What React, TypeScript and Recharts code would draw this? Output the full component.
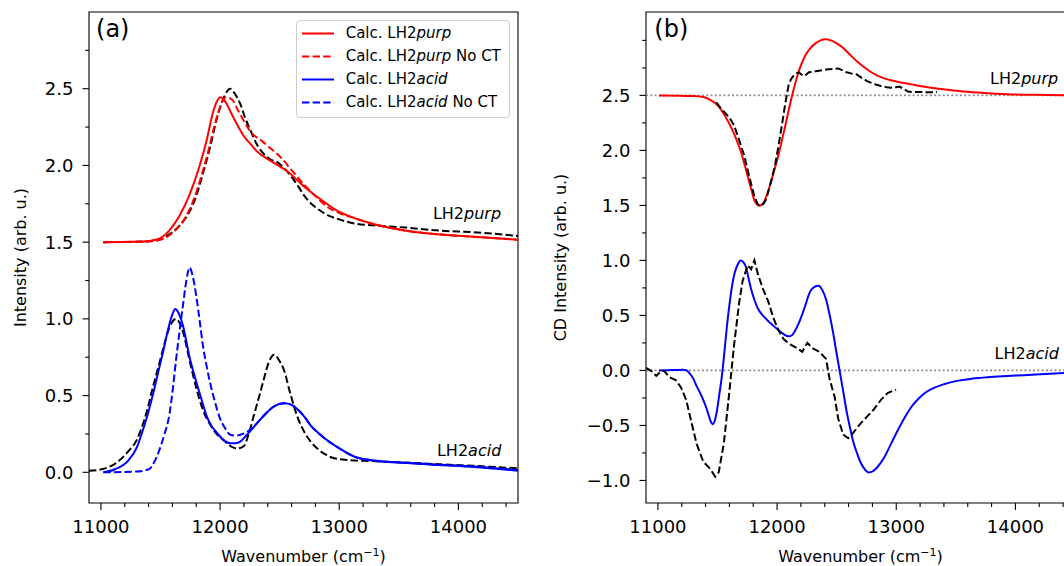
import React from 'react';
import { LineChart, Line, XAxis, YAxis, ReferenceLine, ReferenceArea, ReferenceDot, Legend, Label } from 'recharts';

const FONT = '"DejaVu Sans", sans-serif';

// ---- panel (a): absorption, [wavenumber, intensity] ----
const absPurpCalc = [
  [11020, 1.5], [11300, 1.502], [11400, 1.508], [11490, 1.523], [11573, 1.575], [11658, 1.67],
  [11744, 1.81], [11829, 2.0], [11886, 2.16], [11942, 2.35], [11975, 2.42], [12000, 2.445],
  [12030, 2.43], [12056, 2.4], [12100, 2.33], [12141, 2.27], [12200, 2.19], [12255, 2.14],
  [12311, 2.09], [12425, 2.03], [12567, 1.96], [12709, 1.86], [12851, 1.775], [12993, 1.7],
  [13135, 1.655], [13277, 1.62], [13560, 1.575], [13844, 1.55], [14128, 1.535], [14500, 1.516],
];
const absPurpNoCT = [
  [11020, 1.5], [11400, 1.505], [11500, 1.515], [11600, 1.56], [11700, 1.65], [11780, 1.78],
  [11850, 1.95], [11900, 2.09], [11950, 2.25], [12000, 2.38], [12050, 2.445], [12100, 2.43],
  [12150, 2.36], [12200, 2.29], [12255, 2.22], [12350, 2.16], [12425, 2.11], [12500, 2.06],
  [12600, 1.97], [12700, 1.88], [12800, 1.8], [12900, 1.73], [13000, 1.69], [13135, 1.655],
  [13277, 1.62], [13560, 1.575], [13844, 1.55], [14128, 1.535], [14500, 1.516],
];
const absPurpExp = [
  [11020, 1.5], [11300, 1.502], [11450, 1.51], [11550, 1.54], [11650, 1.6], [11744, 1.7],
  [11800, 1.8], [11857, 1.95], [11920, 2.13], [11971, 2.3], [12030, 2.44], [12084, 2.5],
  [12130, 2.46], [12170, 2.4], [12210, 2.31], [12255, 2.23], [12300, 2.15], [12340, 2.1],
  [12420, 2.04], [12482, 2.02], [12540, 1.98], [12595, 1.93], [12650, 1.87], [12709, 1.8],
  [12780, 1.74], [12851, 1.7], [12920, 1.67], [12993, 1.65], [13135, 1.62], [13277, 1.61],
  [13560, 1.595], [13844, 1.575], [14128, 1.565], [14500, 1.54],
];
const absAcidCalc = [
  [11020, 0.0], [11119, 0.02], [11233, 0.08], [11300, 0.16], [11346, 0.26], [11390, 0.37],
  [11431, 0.49], [11480, 0.65], [11517, 0.77], [11573, 0.96], [11600, 1.03], [11624, 1.064],
  [11650, 1.04], [11687, 0.96], [11744, 0.75], [11800, 0.59], [11850, 0.46], [11886, 0.37],
  [11930, 0.3], [11971, 0.26], [12030, 0.21], [12084, 0.19], [12130, 0.19], [12170, 0.2],
  [12220, 0.24], [12255, 0.27], [12310, 0.32], [12368, 0.37], [12453, 0.43], [12539, 0.45],
  [12600, 0.44], [12652, 0.41], [12710, 0.36], [12766, 0.3], [12820, 0.26], [12879, 0.22],
  [12993, 0.16], [13135, 0.1], [13277, 0.078], [13560, 0.06], [13844, 0.047], [14128, 0.035],
  [14500, 0.01],
];
const absAcidNoCT = [
  [11020, 0.0], [11300, 0.005], [11403, 0.02], [11450, 0.07], [11488, 0.14], [11530, 0.24],
  [11573, 0.37], [11600, 0.52], [11630, 0.73], [11660, 0.92], [11687, 1.08], [11715, 1.24],
  [11744, 1.335], [11770, 1.28], [11800, 1.15], [11830, 0.98], [11857, 0.82], [11885, 0.7],
  [11914, 0.59], [11960, 0.45], [12000, 0.35], [12040, 0.29], [12084, 0.245], [12130, 0.24],
  [12170, 0.245], [12220, 0.26], [12255, 0.28], [12310, 0.32], [12368, 0.37], [12453, 0.43],
  [12539, 0.45], [12600, 0.44], [12652, 0.41], [12710, 0.36], [12766, 0.3], [12820, 0.26],
  [12879, 0.22], [12993, 0.16], [13135, 0.1], [13277, 0.078], [13560, 0.062], [13844, 0.05],
  [14128, 0.038], [14500, 0.015],
];
const absAcidExp = [
  [10900, 0.01], [11006, 0.02], [11119, 0.056], [11233, 0.14], [11300, 0.21], [11346, 0.3],
  [11390, 0.41], [11431, 0.54], [11480, 0.68], [11517, 0.79], [11573, 0.94], [11630, 1.0],
  [11687, 0.92], [11744, 0.73], [11790, 0.58], [11829, 0.47], [11870, 0.38], [11914, 0.315],
  [11970, 0.25], [12028, 0.21], [12080, 0.175], [12141, 0.155], [12198, 0.17], [12240, 0.25],
  [12283, 0.37], [12330, 0.5], [12368, 0.61], [12410, 0.72], [12453, 0.767], [12495, 0.73],
  [12539, 0.66], [12580, 0.54], [12624, 0.42], [12665, 0.33], [12709, 0.26], [12760, 0.2],
  [12823, 0.15], [12880, 0.118], [12936, 0.097], [13078, 0.08], [13277, 0.073], [13560, 0.064],
  [13844, 0.052], [14128, 0.042], [14500, 0.026],
];

// ---- panel (b): CD, [wavenumber, CD intensity] ----
const cdPurpCalc = [
  [11009, 2.5], [11295, 2.495], [11380, 2.485], [11438, 2.46], [11480, 2.43], [11524, 2.38],
  [11570, 2.3], [11610, 2.22], [11655, 2.11], [11696, 1.99], [11730, 1.86], [11767, 1.71],
  [11790, 1.62], [11810, 1.545], [11830, 1.51], [11853, 1.497], [11875, 1.51], [11896, 1.545],
  [11925, 1.63], [11953, 1.73], [11982, 1.84], [12011, 1.955], [12040, 2.09], [12068, 2.22],
  [12096, 2.36], [12125, 2.495], [12155, 2.62], [12182, 2.72], [12210, 2.8], [12240, 2.87],
  [12280, 2.93], [12325, 2.975], [12365, 3.0], [12406, 3.01], [12450, 3.0], [12497, 2.975],
  [12555, 2.93], [12612, 2.87], [12670, 2.81], [12726, 2.76], [12784, 2.715], [12841, 2.68],
  [12900, 2.655], [12955, 2.637], [13040, 2.617], [13127, 2.6], [13240, 2.578], [13356, 2.56],
  [13500, 2.542], [13642, 2.529], [13800, 2.518], [13929, 2.511], [14150, 2.505], [14500, 2.5],
];
const cdPurpExp = [
  [11490, 2.436], [11530, 2.38], [11581, 2.32], [11610, 2.28], [11638, 2.23], [11680, 2.1],
  [11724, 1.955], [11767, 1.76], [11810, 1.58], [11838, 1.51], [11867, 1.497], [11890, 1.52],
  [11910, 1.56], [11945, 1.7], [11982, 1.86], [12010, 2.03], [12039, 2.22], [12068, 2.42],
  [12096, 2.59], [12118, 2.65], [12139, 2.68], [12160, 2.7], [12182, 2.71], [12205, 2.69],
  [12225, 2.675], [12245, 2.69], [12268, 2.71], [12325, 2.72], [12411, 2.735], [12470, 2.74],
  [12512, 2.745], [12545, 2.73], [12583, 2.71], [12620, 2.7], [12669, 2.69], [12710, 2.66],
  [12755, 2.63], [12810, 2.605], [12870, 2.585], [12920, 2.575], [12955, 2.57], [13000, 2.575],
  [13027, 2.58], [13060, 2.56], [13098, 2.535], [13150, 2.53], [13213, 2.53], [13280, 2.528],
  [13342, 2.53],
];
const cdAcidCalc = [
  [11009, 0.0], [11123, 0.003], [11209, 0.007], [11240, 0.0], [11266, -0.026], [11295, -0.07],
  [11324, -0.14], [11352, -0.2], [11381, -0.27], [11403, -0.33], [11424, -0.4], [11442, -0.46],
  [11458, -0.49], [11476, -0.46], [11495, -0.37], [11515, -0.22], [11538, -0.04], [11560, 0.19],
  [11581, 0.42], [11603, 0.62], [11624, 0.78], [11645, 0.89], [11667, 0.956], [11696, 1.0],
  [11720, 0.98], [11739, 0.94], [11760, 0.84], [11782, 0.74], [11810, 0.64], [11839, 0.563],
  [11880, 0.5], [11925, 0.45], [11970, 0.405], [12011, 0.367], [12055, 0.33], [12096, 0.31],
  [12125, 0.32], [12154, 0.367], [12182, 0.43], [12211, 0.51], [12240, 0.6], [12268, 0.694],
  [12300, 0.75], [12348, 0.77], [12380, 0.73], [12411, 0.645], [12440, 0.51], [12469, 0.35],
  [12497, 0.17], [12526, -0.01], [12555, -0.19], [12583, -0.37], [12612, -0.52], [12640, -0.65],
  [12670, -0.75], [12698, -0.83], [12730, -0.89], [12769, -0.927], [12805, -0.915], [12841, -0.88],
  [12900, -0.79], [12955, -0.67], [13010, -0.55], [13070, -0.43], [13125, -0.335], [13184, -0.26],
  [13240, -0.205], [13299, -0.167], [13400, -0.125], [13499, -0.097], [13640, -0.074], [13786, -0.06],
  [13930, -0.05], [14072, -0.043], [14250, -0.032], [14500, -0.018],
];
const cdAcidExp = [
  [10900, 0.023], [10951, -0.01], [10986, -0.05], [11023, -0.01], [11052, -0.003], [11094, -0.06],
  [11152, -0.09], [11195, -0.157], [11238, -0.27], [11281, -0.47], [11324, -0.665], [11381, -0.83],
  [11438, -0.894], [11481, -0.966], [11510, -0.927], [11553, -0.665], [11595, -0.24], [11638, 0.22],
  [11681, 0.61], [11710, 0.81], [11753, 0.956], [11782, 0.92], [11810, 1.0], [11839, 0.875],
  [11882, 0.74], [11925, 0.63], [11968, 0.48], [12011, 0.367], [12054, 0.285], [12111, 0.236],
  [12168, 0.203], [12211, 0.17], [12254, 0.25], [12297, 0.203], [12354, 0.17], [12411, 0.105],
  [12440, -0.075], [12483, -0.24], [12512, -0.435], [12555, -0.583], [12597, -0.616], [12640, -0.566],
  [12698, -0.485], [12755, -0.42], [12812, -0.354], [12870, -0.27], [12927, -0.206], [12998, -0.174],
];

// ---- axes ----
const xTicks = [11000, 11200, 11400, 11600, 11800, 12000, 12200, 12400, 12600, 12800, 13000, 13200, 13400, 13600, 13800, 14000, 14200, 14400];
const xLabels = [11000, 12000, 13000, 14000];
const absYTicks = [0, 0.25, 0.5, 0.75, 1, 1.25, 1.5, 1.75, 2, 2.25, 2.5, 2.75];
const absYLabels = [0, 0.5, 1, 1.5, 2, 2.5];
const cdYTicks = [-1, -0.75, -0.5, -0.25, 0, 0.25, 0.5, 0.75, 1, 1.25, 1.5, 1.75, 2, 2.25, 2.5, 2.75, 3];
const cdYLabels = [-1, -0.5, 0, 0.5, 1, 1.5, 2, 2.5];

const X_DOMAIN: [number, number] = [10900, 14500];
const ABS_Y_DOMAIN: [number, number] = [-0.2, 3.0];
const CD_Y_DOMAIN: [number, number] = [-1.205, 3.258];

const toXY = (pts: number[][]) => pts.map(([x, y]) => ({ x, y }));
const fmt = (v: number) => (v < 0 ? '\u2212' : '') + Math.abs(v).toFixed(1);

const DASH = '7.4 3.2';
const calcSeries = (purp: number[][], purpNo: number[][], acid: number[][], acidNo: number[][]) => [
  { name: 'Calc. LH2purp', data: toXY(purp), color: '#ff0000', dash: undefined },
  { name: 'Calc. LH2purp No CT', data: toXY(purpNo), color: '#ff0000', dash: DASH },
  { name: 'Calc. LH2acid', data: toXY(acid), color: '#0000ff', dash: undefined },
  { name: 'Calc. LH2acid No CT', data: toXY(acidNo), color: '#0000ff', dash: DASH },
];

const italicize = (s: string) =>
  s.split(/(purp|acid)/).map((part, i) =>
    part === 'purp' || part === 'acid'
      ? <tspan key={i} fontStyle="italic">{part}</tspan>
      : <tspan key={i}>{part}</tspan>
  );

const XTick = (props: any) => {
  const { x, y, payload } = props;
  const major = xLabels.includes(payload.value);
  return (
    <g>
      <line x1={x} x2={x} y1={y} y2={y + (major ? 7 : 4)} stroke="#000" strokeWidth={1.1} />
      {major && (
        <text x={x} y={y + 29.7} textAnchor="middle" fontSize={18} fontFamily={FONT} fill="#000">
          {payload.value}
        </text>
      )}
    </g>
  );
};

const makeYTick = (labels: number[]) => (props: any) => {
  const { x, y, payload } = props;
  const major = labels.some((l) => Math.abs(l - payload.value) < 1e-9);
  return (
    <g>
      <line x1={x - (major ? 6.5 : 3.8)} x2={x} y1={y} y2={y} stroke="#000" strokeWidth={1.1} />
      {major && (
        <text x={x - 15.5} y={y + 6.5} textAnchor="end" fontSize={18} fontFamily={FONT} fill="#000">
          {fmt(payload.value)}
        </text>
      )}
    </g>
  );
};

const annot = (text: string, size: number) => (p: any) => {
  const vb = p.viewBox || {};
  const x = (vb.x ?? 0) + (vb.width ?? 0) / 2;
  const y = (vb.y ?? 0) + (vb.height ?? 0) / 2;
  return (
    <text x={x} y={y} fontSize={size} fontFamily={FONT} fill="#000">
      {italicize(text)}
    </text>
  );
};

const PLOT_W = 429;
const CHART_H = 566;
const MARGIN = { top: 12, right: 12, bottom: 0, left: 0 };

const xAxisLabel = (axisW: number) => () => (
  <text x={axisW + PLOT_W / 2} y={562} textAnchor="middle" fontSize={16} fontFamily={FONT} fill="#000">
    Wavenumber (cm<tspan dy={-6} fontSize={11}>{'\u22121'}</tspan><tspan dy={6}>)</tspan>
  </text>
);

const yAxisLabel = (text: string, bx: number) => () => (
  <text x={bx} y={257.5} transform={`rotate(-90, ${bx}, 257.5)`} textAnchor="middle" fontSize={16} fontFamily={FONT} fill="#000">
    {text}
  </text>
);

const absCalc = calcSeries(absPurpCalc, absPurpNoCT, absAcidCalc, absAcidNoCT);

const renderLegend = () => (
  <div
    style={{
      position: 'relative', boxSizing: 'border-box', width: 214, height: 98,
      border: '1px solid #cccccc', borderRadius: 4, background: 'rgba(255,255,255,0.8)',
      fontFamily: FONT, fontSize: 15, color: '#000',
    }}
  >
    {absCalc.map((s, i) => (
      <div key={s.name} style={{ position: 'absolute', left: 0, top: 0.75 + i * 23.1, width: '100%', height: 23.1, lineHeight: '23.1px', whiteSpace: 'nowrap' }}>
        <svg width={32} height={23} style={{ position: 'absolute', left: 4.7, top: 0 }}>
          <line x1={0} x2={32} y1={11.5} y2={11.5} stroke={s.color} strokeWidth={2} strokeDasharray={s.dash} />
        </svg>
        <span style={{ position: 'absolute', left: 48.7, top: 0 }}>
          {s.name.split(/(purp|acid)/).map((part, j) =>
            part === 'purp' || part === 'acid' ? <i key={j}>{part}</i> : <span key={j}>{part}</span>
          )}
        </span>
      </div>
    ))}
  </div>
);

// panel (a): y-axis area 89 px wide, chart at page x 0
const A_AXIS_W = 89;
// panel (b): y-axis area 106 px wide, chart at page x 540
const B_AXIS_W = 106;

const PanelA = () => (
  <LineChart width={A_AXIS_W + PLOT_W + MARGIN.right} height={CHART_H} margin={MARGIN} style={{ fontFamily: FONT }}>
    <XAxis dataKey="x" type="number" domain={X_DOMAIN} ticks={xTicks} interval={0} allowDataOverflow
      height={63} axisLine={false} tickLine={false} tickSize={0} tickMargin={0} tick={(p: any) => <XTick {...p} />}>
      <Label content={xAxisLabel(A_AXIS_W)} />
    </XAxis>
    <YAxis type="number" domain={ABS_Y_DOMAIN} ticks={absYTicks} interval={0} allowDataOverflow
      width={A_AXIS_W} axisLine={false} tickLine={false} tickSize={0} tickMargin={0} tick={makeYTick(absYLabels)}>
      <Label content={yAxisLabel('Intensity (arb. u.)', 26)} />
    </YAxis>
    <ReferenceArea x1={X_DOMAIN[0]} x2={X_DOMAIN[1]} y1={ABS_Y_DOMAIN[0]} y2={ABS_Y_DOMAIN[1]} fill="none" stroke="#000" strokeWidth={1.1} />
    <Line data={toXY(absPurpExp)} dataKey="y" type="monotone" stroke="#000" strokeWidth={2} strokeDasharray={DASH} dot={false} activeDot={false} legendType="none" isAnimationActive={false} />
    <Line data={toXY(absAcidExp)} dataKey="y" type="monotone" stroke="#000" strokeWidth={2} strokeDasharray={DASH} dot={false} activeDot={false} legendType="none" isAnimationActive={false} />
    {absCalc.map((s) => (
      <Line key={s.name} name={s.name} data={s.data} dataKey="y" type="monotone" stroke={s.color} strokeWidth={2}
        strokeDasharray={s.dash} dot={false} activeDot={false} isAnimationActive={false} />
    ))}
    <ReferenceDot x={10959} y={2.836} r={1} fill="none" stroke="none" label={annot('(a)', 24)} />
    <ReferenceDot x={13786} y={1.648} r={1} fill="none" stroke="none" label={annot('LH2purp', 16)} />
    <ReferenceDot x={13820} y={0.106} r={1} fill="none" stroke="none" label={annot('LH2acid', 16)} />
    <Legend layout="vertical" align="center" verticalAlign="middle" content={renderLegend}
      wrapperStyle={{ left: 296, top: 20, width: 214, height: 98 }} />
  </LineChart>
);

const PanelB = () => (
  <LineChart width={B_AXIS_W + PLOT_W + MARGIN.right} height={CHART_H} margin={MARGIN} style={{ fontFamily: FONT }}>
    <XAxis dataKey="x" type="number" domain={X_DOMAIN} ticks={xTicks} interval={0} allowDataOverflow
      height={63} axisLine={false} tickLine={false} tickSize={0} tickMargin={0} tick={(p: any) => <XTick {...p} />}>
      <Label content={xAxisLabel(B_AXIS_W)} />
    </XAxis>
    <YAxis type="number" domain={CD_Y_DOMAIN} ticks={cdYTicks} interval={0} allowDataOverflow
      width={B_AXIS_W} axisLine={false} tickLine={false} tickSize={0} tickMargin={0} tick={makeYTick(cdYLabels)}>
      <Label content={yAxisLabel('CD Intensity (arb. u.)', 26)} />
    </YAxis>
    <ReferenceArea x1={X_DOMAIN[0]} x2={X_DOMAIN[1]} y1={CD_Y_DOMAIN[0]} y2={CD_Y_DOMAIN[1]} fill="none" stroke="#000" strokeWidth={1.1} />
    <ReferenceLine y={2.5} stroke="#8c8c8c" strokeWidth={1.8} strokeDasharray="2 2.3" />
    <ReferenceLine y={0} stroke="#8c8c8c" strokeWidth={1.8} strokeDasharray="2 2.3" />
    <Line data={toXY(cdPurpCalc)} dataKey="y" type="monotone" stroke="#ff0000" strokeWidth={2} dot={false} activeDot={false} isAnimationActive={false} />
    <Line data={toXY(cdAcidCalc)} dataKey="y" type="monotone" stroke="#0000ff" strokeWidth={2} dot={false} activeDot={false} isAnimationActive={false} />
    <Line data={toXY(cdPurpExp)} dataKey="y" type="linear" stroke="#000" strokeWidth={2} strokeDasharray={DASH} dot={false} activeDot={false} isAnimationActive={false} />
    <Line data={toXY(cdAcidExp)} dataKey="y" type="linear" stroke="#000" strokeWidth={2} strokeDasharray={DASH} dot={false} activeDot={false} isAnimationActive={false} />
    <ReferenceDot x={10970} y={3.028} r={1} fill="none" stroke="none" label={annot('(b)', 24)} />
    <ReferenceDot x={13787} y={2.605} r={1} fill="none" stroke="none" label={annot('LH2purp', 16)} />
    <ReferenceDot x={13825} y={0.102} r={1} fill="none" stroke="none" label={annot('LH2acid', 16)} />
  </LineChart>
);

export default function App() {
  return (
    <div style={{ position: 'absolute', left: 0, top: 0, width: 1064, height: 566, overflow: 'hidden', background: '#fff', fontFamily: FONT }}>
      <div style={{ position: 'absolute', left: 0, top: 0 }}>
        <PanelA />
      </div>
      <div style={{ position: 'absolute', left: 540, top: 0 }}>
        <PanelB />
      </div>
    </div>
  );
}
